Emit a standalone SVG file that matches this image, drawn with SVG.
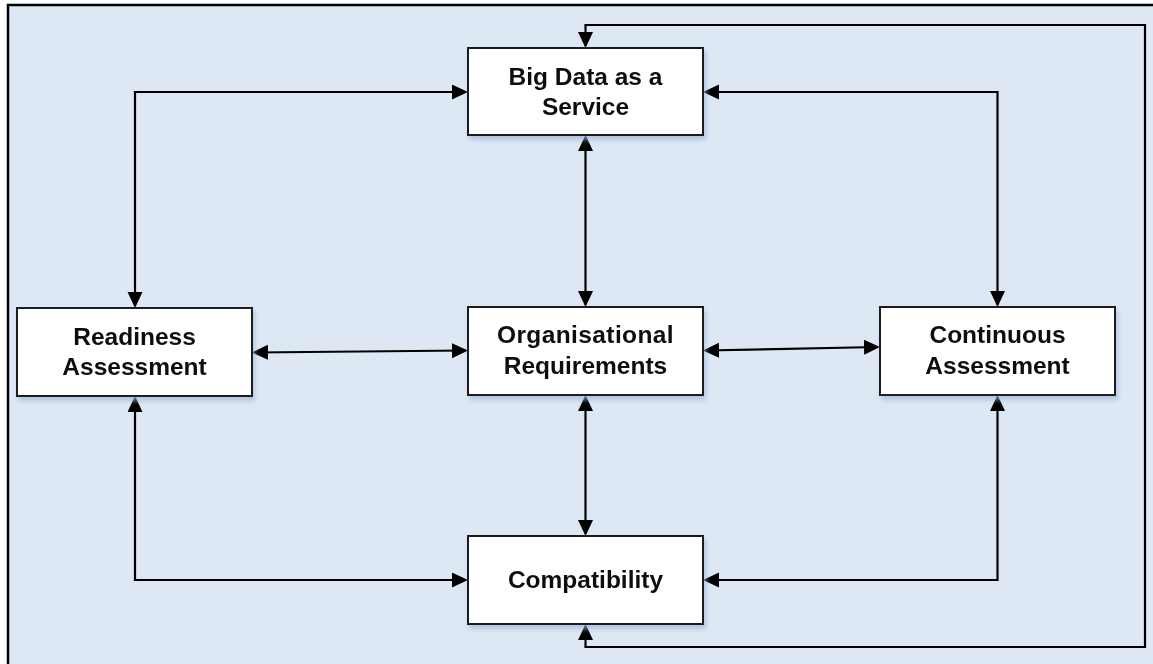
<svg xmlns="http://www.w3.org/2000/svg" width="1153" height="664" viewBox="0 0 1153 664">
  <style>
    .box { fill: #ffffff; stroke: #1c1c1c; stroke-width: 2; }
    .label { font-family: "Liberation Sans", Arial, sans-serif; font-weight: bold; font-size: 24.5px; fill: #111111; text-anchor: middle; }
    .wire { fill: none; stroke: #000000; stroke-width: 2.2; marker-start: url(#arrow); marker-end: url(#arrow); }
  </style>
  <defs>
    <marker id="arrow" markerUnits="userSpaceOnUse" markerWidth="17" markerHeight="16" viewBox="0 0 17 16" refX="14" refY="7.5" orient="auto-start-reverse">
      <path d="M0,0 L16,7.5 L0,15 z" fill="#000000"/>
    </marker>
    <filter id="shadow" x="-10%" y="-10%" width="125%" height="130%">
      <feGaussianBlur in="SourceAlpha" stdDeviation="2.5"/>
      <feOffset dx="2" dy="4" result="blur"/>
      <feFlood flood-color="#9fb4d6" flood-opacity="0.7"/>
      <feComposite in2="blur" operator="in"/>
      <feMerge>
        <feMergeNode/>
        <feMergeNode in="SourceGraphic"/>
      </feMerge>
    </filter>
  </defs>

  <!-- canvas frame -->
  <rect x="0" y="0" width="1153" height="664" fill="#ffffff"/>
  <rect x="8" y="5" width="1200" height="700" fill="#dee8f5" stroke="#000000" stroke-width="2.5"/>

  <!-- connectors -->
  <g id="connectors">
    <path class="wire" d="M135,306 V92 H466"/>
    <path class="wire" d="M705,92 H997.5 V305"/>
    <path class="wire" d="M585.5,137 V305"/>
    <path class="wire" d="M254,352.5 L466,350.5"/>
    <path class="wire" d="M705,350.5 L878,347"/>
    <path class="wire" d="M585.5,397 V534"/>
    <path class="wire" d="M135,398 V580 H466"/>
    <path class="wire" d="M997.5,397 V580 H705"/>
    <path class="wire" d="M585.5,626 V647 H1145 V25 H585.5 V46"/>
  </g>

  <!-- nodes -->
  <g id="big-data-service" filter="url(#shadow)">
    <rect class="box" x="468" y="48" width="235" height="87"/>
    <text class="label" x="585.5" y="85">Big Data as a</text>
    <text class="label" x="585.5" y="115">Service</text>
  </g>
  <g id="readiness-assessment" filter="url(#shadow)">
    <rect class="box" x="17" y="308" width="235" height="88"/>
    <text class="label" x="134.5" y="345">Readiness</text>
    <text class="label" x="134.5" y="375">Assessment</text>
  </g>
  <g id="organisational-requirements" filter="url(#shadow)">
    <rect class="box" x="468" y="307" width="235" height="88"/>
    <text class="label" x="585.5" y="343" letter-spacing="0.4">Organisational</text>
    <text class="label" x="585.5" y="374">Requirements</text>
  </g>
  <g id="continuous-assessment" filter="url(#shadow)">
    <rect class="box" x="880" y="307" width="235" height="88"/>
    <text class="label" x="997.5" y="343">Continuous</text>
    <text class="label" x="997.5" y="374">Assessment</text>
  </g>
  <g id="compatibility" filter="url(#shadow)">
    <rect class="box" x="468" y="536" width="235" height="88"/>
    <text class="label" x="585.5" y="588">Compatibility</text>
  </g>
</svg>
